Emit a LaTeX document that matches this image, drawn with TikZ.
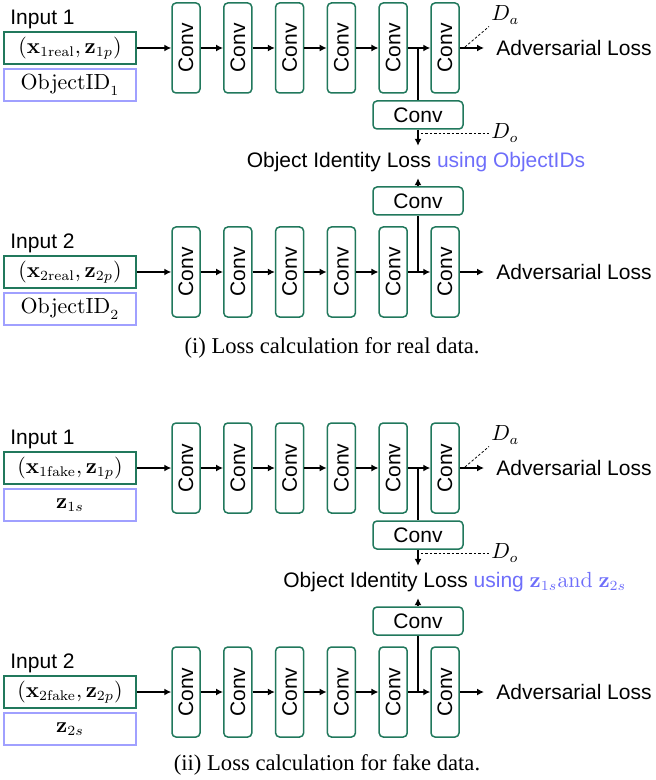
\documentclass[tikz,border=0pt]{standalone}
\usepackage[no-math]{fontspec}
\setmainfont{Liberation Sans}
\newfontfamily\capfont{Liberation Serif}
\usepackage{tikz}
\usetikzlibrary{arrows.meta}
\definecolor{convgreen}{RGB}{33,120,92}
\definecolor{idblue}{RGB}{110,110,250}
\definecolor{boxblue}{RGB}{160,160,255}

\begin{document}
\begin{tikzpicture}
[x=0.5pt,y=-0.5pt,font=\fontsize{10.5}{12}\selectfont,
  convdecorate/.style={shape=rectangle,rounded corners=2pt,draw=convgreen,
    line width=0.75pt,minimum width=14pt,minimum height=45pt,inner sep=0pt},
  hconvdecorate/.style={shape=rectangle,rounded corners=2pt,draw=convgreen,
    line width=0.75pt,minimum width=45pt,minimum height=14pt,inner sep=0pt},
  inputdecorate/.style={shape=rectangle,draw=convgreen,line width=0.75pt,
    minimum width=66pt,minimum height=16pt,inner sep=0pt},
  iddecorate/.style={shape=rectangle,draw=boxblue,line width=0.6pt,
    minimum width=66pt,minimum height=16pt,inner sep=0pt},
  textdecorate/.style={inner sep=0pt},
  linedecorate/.style={-{Latex[length=3.5pt,width=3.5pt]},line width=1pt},
  branchdecorate/.style={-,line width=1pt},
  dashdecorate/.style={-,line width=0.4pt,dash pattern=on 1.2pt off 1pt}]
\useasboundingbox (0,0) rectangle (655,780);
%% the two panels, real data (a) and fake data (b)
\foreach \p/\dy/\kind/\ida/\idb in {a/0/real/{\mathrm{ObjectID}_1}/{\mathrm{ObjectID}_2},
  b/420/fake/{\mathbf{z}_{1s}}/{\mathbf{z}_{2s}}}
{
\begin{scope}[shift={(0,\dy)}]
  %% one row for each input
  \foreach \r/\ry in {1/48, 2/272}
  {
    \node (\p\r lab) at (10,\ry-29) [anchor=west,textdecorate] {Input \r};
    \node (\p\r in) at (70,\ry) [inputdecorate]
      {$(\mathbf{x}_{\r\mathrm{\kind}},\mathbf{z}_{\r p})$};
    \node (\p\r id) at (70,\ry+37) [iddecorate] {$\ifnum\r=1 \ida\else\idb\fi$};
    \foreach \i in {1,...,6}
      \node (\p\r c\i) at (186+51.8*\i-51.8,\ry) [convdecorate] {\rotatebox{90}{Conv}};
    \coordinate (\p\r br) at (418,\ry);
    \coordinate (\p\r out) at (484,\ry);
    \node (\p\r adv) at (496,\ry) [anchor=west,textdecorate] {Adversarial Loss};
    \draw[linedecorate] (\p\r in) -- (\p\r c1);
    \foreach \startnode/\endnode in {1/2, 2/3, 3/4, 4/5, 5/6}
      \draw[linedecorate] (\p\r c\startnode) -- (\p\r c\endnode);
    \draw[linedecorate] (\p\r c6) -- (\p\r out);
  }
  %% object identity branch
  \node (\p o1) at (418,115) [hconvdecorate] {Conv};
  \node (\p o2) at (418,201) [hconvdecorate] {Conv};
  \draw[branchdecorate] (\p1br) -- (\p o1);
  \draw[branchdecorate] (\p2br) -- (\p o2);
  %% discriminator outputs
  \node (\p da) at (489,15) [anchor=west,inner sep=1pt] {$D_a$};
  \node (\p do) at (489,133) [anchor=west,inner sep=1pt] {$D_o$};
  \coordinate (\p dap) at (465,47);
  \coordinate (\p dop) at (421,133);
  \draw[dashdecorate] (\p dap) -- (\p da.south west);
  \draw[dashdecorate] (\p dop) -- (\p do.west);
\end{scope}
}
%% loss texts and captions
\node (aloss) at (416,162) [inner xsep=0pt,inner ysep=3pt]
  {Object Identity Loss \textcolor{idblue}{using ObjectIDs}};
\node (bloss) at (283,582) [anchor=west,inner xsep=0pt,inner ysep=3pt]
  {Object Identity Loss \textcolor{idblue}{using $\mathbf{z}_{1s}\mathrm{and}\ \mathbf{z}_{2s}$}};
\foreach \p in {a,b}
{
  \draw[linedecorate] (\p o1) -- (\p o1 |- \p loss.north);
  \draw[linedecorate] (\p o2) -- (\p o2 |- \p loss.south);
}
\node (acap) at (332,348) [font=\capfont\fontsize{11.3}{13}\selectfont]
  {(i) Loss calculation for real data.};
\node (bcap) at (327,765) [font=\capfont\fontsize{11.3}{13}\selectfont]
  {(ii) Loss calculation for fake data.};
\end{tikzpicture}
\end{document}
